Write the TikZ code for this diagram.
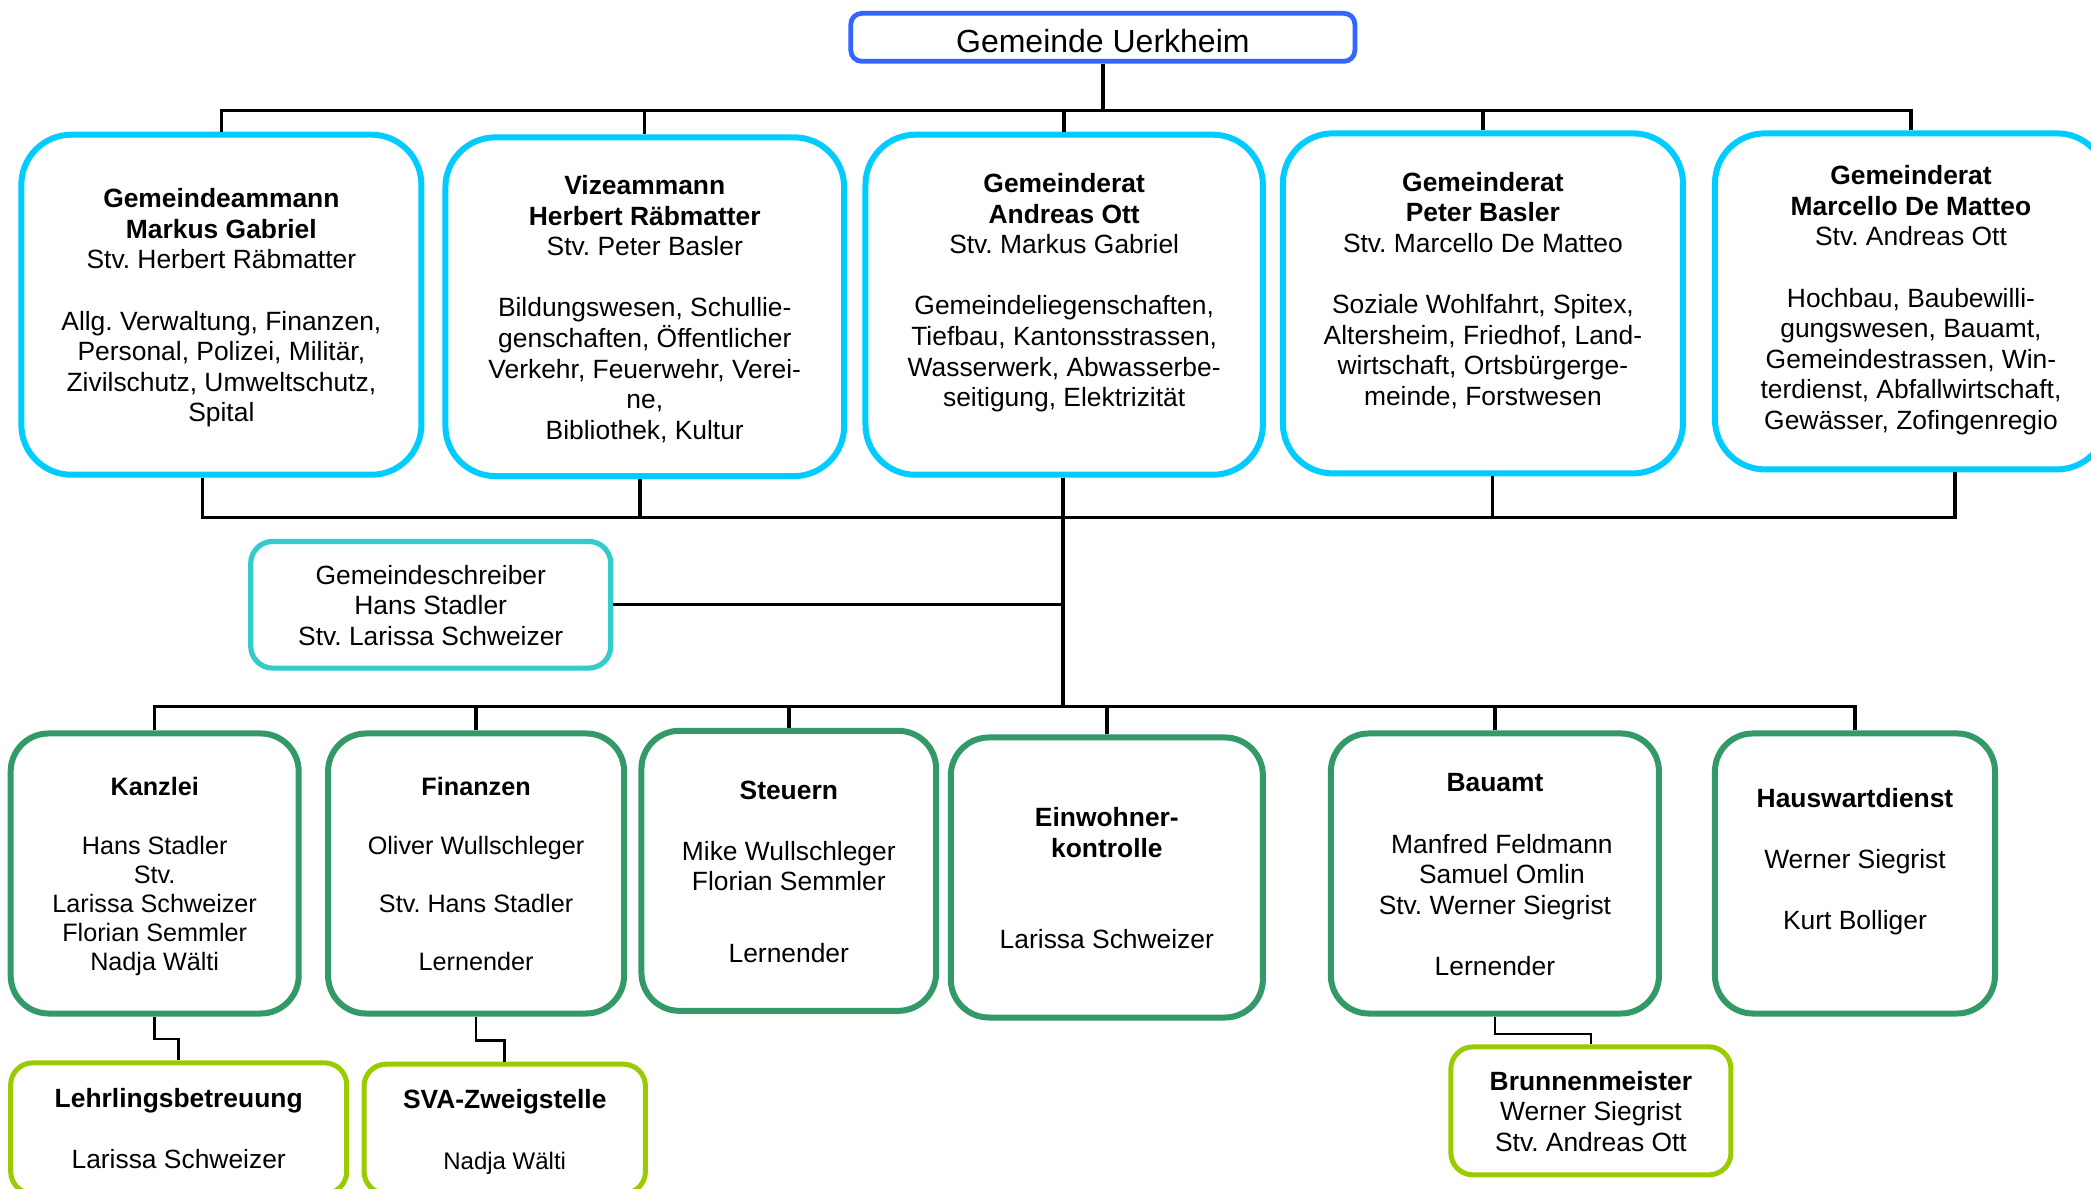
\documentclass[tikz,border=0pt]{standalone}
\usepackage{fontspec}
\setmainfont{Liberation Sans}
\usetikzlibrary{calc}
\definecolor{cBlue}{HTML}{3366FF}
\definecolor{cCyan}{HTML}{00CCFF}
\definecolor{cTeal}{HTML}{33CCCC}
\definecolor{cGreen}{HTML}{339966}
\definecolor{cLime}{HTML}{99CC00}
\newcommand{\myfA}{\fontsize{13.2}{15.3}\selectfont}
\newcommand{\myfB}{\fontsize{12.6}{14.6}\selectfont}
\newcommand{\myfC}{\fontsize{12}{14}\selectfont}
\newcommand{\myfT}{\fontsize{16}{19}\selectfont}
\newcommand{\tstrut}{\rule{0pt}{\dimexpr 0.7\baselineskip+4pt\relax}}
\newcommand{\bstrut}{\rule[-\dimexpr 0.3\baselineskip+4.5pt\relax]{0pt}{1pt}}
\frenchspacing
\begin{document}
\frenchspacing
\begin{tikzpicture}[x=0.6667pt,y=-0.6667pt,
  box/.style={align=center, inner sep=0pt, fill=white, text=black},
  wsz/.style 2 args={minimum width={#1*0.6667pt}, minimum height={#2*0.6667pt}},
  topbox/.style={box, draw=cBlue, line width=2.4pt, rounded corners=5.5pt, font=\myfT},
  ratbox/.style={box, draw=cCyan, line width=3pt, rounded corners=25pt, font=\myfA},
  gsbox/.style={box, draw=cTeal, line width=2.6pt, rounded corners=11pt, font=\myfA},
  unitbox/.style={box, draw=cGreen, line width=3pt, rounded corners=19pt, font=\myfA},
  subbox/.style={box, draw=cLime, line width=2.5pt, rounded corners=11pt, font=\myfA},
  conn/.style={draw=black, line width=1.3pt},
  bus/.style={draw=black, line width=1.7pt},
  trunk/.style={draw=black, line width=2.2pt},
]
\useasboundingbox (0,0) rectangle (1568,891.6);
\clip (0,0) rectangle (1568,891.6);
\fill[white] (0,0) rectangle (1568,891.6);

% connector coordinates
\coordinate (busA) at (827,83);
\coordinate (busB) at (797,388);
\coordinate (busC) at (797,530);

% top
\node[topbox, wsz={378}{36}, text height=15.5pt, text depth=0pt] (top) at (827,28) {Gemeinde Uerkheim};

% council
\node[ratbox, wsz={300}{255}] (t1) at (166,228.5) {\tstrut\textbf{Gemeindeammann}\\\textbf{Markus Gabriel}\\Stv. Herbert Räbmatter\\[15.3pt]Allg. Verwaltung, Finanzen,\\Personal, Polizei, Militär,\\Zivilschutz, Umweltschutz,\\Spital\strut};
\node[ratbox, wsz={299}{254}] (t2) at (483.5,230) {\tstrut\textbf{Vizeammann}\\\textbf{Herbert Räbmatter}\\Stv. Peter Basler\\[15.3pt]Bildungswesen, Schullie-\\genschaften, Öffentlicher\\Verkehr, Feuerwehr, Verei-\\ne,\\Bibliothek, Kultur\strut};
\node[ratbox, wsz={298}{255}] (t3) at (798,228.5) {\tstrut\textbf{Gemeinderat}\\\textbf{Andreas Ott}\\Stv. Markus Gabriel\\[15.3pt]Gemeindeliegenschaften,\\Tiefbau, Kantonsstrassen,\\Wasserwerk, Abwasserbe-\\seitigung, Elektrizität\\\strut};
\node[ratbox, wsz={300}{255}] (t4) at (1112,227.5) {\tstrut\textbf{Gemeinderat}\\\textbf{Peter Basler}\\Stv. Marcello De Matteo\\[15.3pt]Soziale Wohlfahrt, Spitex,\\Altersheim, Friedhof, Land-\\wirtschaft, Ortsbürgerge-\\meinde, Forstwesen\\\strut};
\node[ratbox, wsz={294}{252}] (t5) at (1433,226) {\tstrut\textbf{Gemeinderat}\\\textbf{Marcello De Matteo}\\Stv. Andreas Ott\\[15.3pt]Hochbau, Baubewilli-\\gungswesen, Bauamt,\\Gemeindestrassen, Win-\\terdienst, Abfallwirtschaft,\\Gewässer, Zofingenregio\bstrut};

% Gemeindeschreiber
\node[gsbox, wsz={270}{95}] (gs) at (323,453.5) {\tstrut Gemeindeschreiber\\Hans Stadler\\Stv. Larissa Schweizer\strut};

% units
\node[unitbox, font=\myfB, wsz={216}{210}] (l1) at (116,655) {\tstrut\textbf{Kanzlei}\\[14.6pt]Hans Stadler\\Stv.\\Larissa Schweizer\\Florian Semmler\\Nadja Wälti\strut};
\node[unitbox, font=\myfB, wsz={222}{210}] (l2) at (357,655) {\tstrut\textbf{Finanzen}\\[14.6pt]Oliver Wullschleger\\[14.6pt]Stv. Hans Stadler\\[14.6pt]Lernender\strut};
\node[unitbox, wsz={221}{210}] (l3) at (591.5,653) {\tstrut\textbf{Steuern}\\[15.3pt]Mike Wullschleger\\Florian Semmler\\[20.7pt]Lernender\strut};
\node[unitbox, wsz={234}{210}] (l4) at (830,658) {\tstrut\textbf{Einwohner-}\\\textbf{kontrolle}\\[30pt]Larissa Schweizer\strut};
\node[unitbox, wsz={246}{210}] (l5) at (1121,655) {\tstrut\textbf{Bauamt}\\[15.3pt]\hspace*{7pt}Manfred Feldmann\\\hspace*{7pt}Samuel Omlin\\Stv. Werner Siegrist\\[15.3pt]Lernender\strut};
\node[unitbox, wsz={210}{210}] (l6) at (1391,655) {\tstrut\textbf{Hauswartdienst}\\[15.3pt]Werner Siegrist\\[15.3pt]Kurt Bolliger\\\strut};

% sub units
\node[subbox, wsz={252}{98}] (b1) at (134,846) {\tstrut\textbf{Lehrlingsbetreuung}\\[15.3pt]Larissa Schweizer\strut};
\node[subbox, wsz={211}{97}] (b2) at (378.5,846.5) {\tstrut\textbf{SVA-Zweigstelle}\\[15.3pt]{\myfC Nadja Wälti}\strut};
\node[subbox, wsz={210}{96}] (b3) at (1193,833) {\tstrut\textbf{Brunnenmeister}\\Werner Siegrist\\Stv. Andreas Ott\strut};

% connectors top level
\draw[bus] (top.south) -- (busA);
\foreach \n in {t1,t2,t3,t4,t5} \draw[bus] (\n.north) |- (busA);

% connectors council bottom
\draw[bus] ($(t1.south)+(-14,0)$) |- (busB);
\draw[bus] ($(t2.south)+(-3.5,0)$) |- (busB);
\draw[bus] ($(t4.south)+(7,0)$) |- (busB);
\draw[bus] ($(t5.south)+(33,0)$) |- (busB);
\draw[trunk] ($(t3.south)+(-1,0)$) -- (busC);

% Gemeindeschreiber
\draw[bus] (gs.east) -- (gs.east -| busC);

% units
\foreach \n in {l1,l2,l3,l4,l5,l6} \draw[bus] (\n.north) |- (busC);

% sub units
\draw[conn] (l1.south) -- ++(0,17) -| (b1.north);
\draw[conn] (l2.south) -- ++(0,18) -| (b2.north);
\draw[conn] (l5.south) -- ++(0,13) -| (b3.north);
\end{tikzpicture}
\end{document}
